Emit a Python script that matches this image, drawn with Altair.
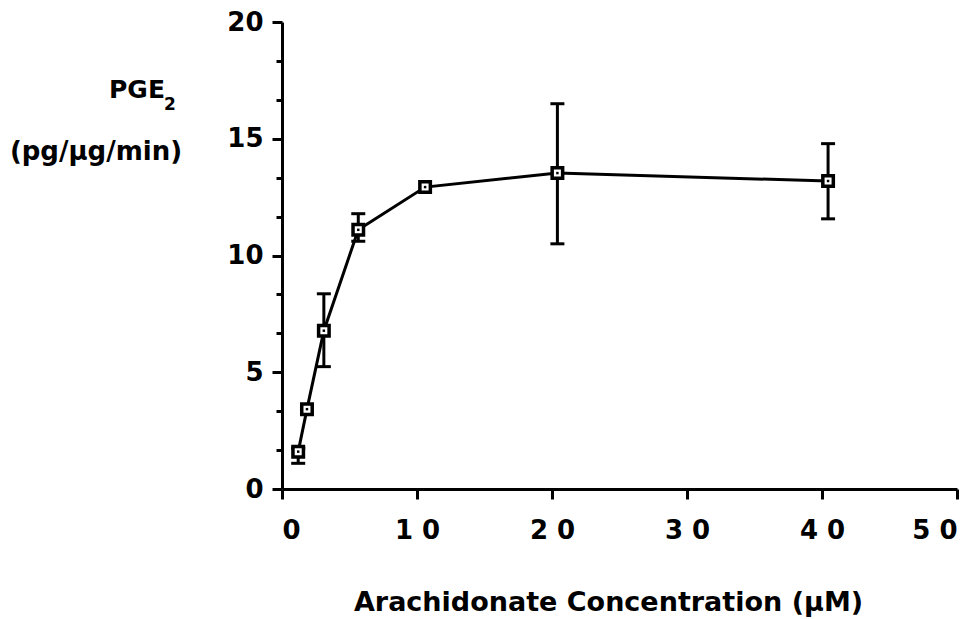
import altair as alt
import pandas as pd

# Data
conc = [1.2, 1.85, 3.1, 5.65, 10.6, 20.4, 40.45]
pge = [1.6, 3.42, 6.78, 11.1, 12.93, 13.53, 13.19]
err_conc = [1.2, 3.1, 5.65, 20.4, 40.45]
err_low = [1.1, 5.24, 10.61, 10.5, 11.57]
err_high = [1.75, 8.36, 11.79, 16.5, 14.79]

x_ticks = [0, 10, 20, 30, 40, 50]
y_ticks = [0, 5 / 3, 10 / 3, 5, 20 / 3, 25 / 3, 10, 35 / 3, 40 / 3, 15, 50 / 3, 55 / 3, 20]

FONT = "DejaVu Sans"
MAJOR = "abs(datum.value - round(datum.value / 5) * 5) < 0.01"

df = pd.DataFrame({"conc": conc, "pge": pge})
edf = pd.DataFrame({"conc": err_conc, "lo": err_low, "hi": err_high})

xs = alt.Scale(domain=[0, 50], nice=False)
ys = alt.Scale(domain=[0, 20], nice=False)

x_axis = alt.Axis(
    values=x_ticks, tickCount=20, grid=False, domainColor="black", domainWidth=3,
    tickColor="black", tickWidth=3, tickSize=10, labelOverlap=False,
    labelFont=FONT, labelFontSize=26, labelFontWeight="bold", labelColor="black",
    labelPadding=18,
    labelExpr="length(datum.label) > 1 ? substring(datum.label,0,1) + ' ' + substring(datum.label,1) : datum.label",
    title="Arachidonate Concentration (\u00b5M)", titleFont=FONT, titleFontSize=27,
    titleFontWeight="bold", titleColor="black", titleX=326, titleY=121,
    titleBaseline="alphabetic", titleAlign="center",
)

y_axis = alt.Axis(
    values=y_ticks, tickCount=40, grid=False, domainColor="black", domainWidth=3,
    tickColor="black", tickWidth=3, labelOverlap=False,
    tickSize={"condition": {"test": MAJOR, "value": 10}, "value": 6},
    labelFont=FONT, labelFontSize=26, labelFontWeight="bold", labelColor="black",
    labelPadding=9,
    labelExpr=MAJOR + " ? format(datum.value, 'd') : ''",
    title=None,
)

base = alt.Chart(df)

line = base.mark_line(color="black", strokeWidth=3).encode(
    x=alt.X("conc:Q", scale=xs, axis=x_axis),
    y=alt.Y("pge:Q", scale=ys, axis=y_axis),
)

ebase = alt.Chart(edf)
rules = ebase.mark_rule(color="black", strokeWidth=3, opacity=1).encode(
    x=alt.X("conc:Q", scale=xs), y=alt.Y("lo:Q", scale=ys), y2="hi:Q"
)
cap_lo = ebase.mark_tick(color="black", thickness=3, size=14, orient="horizontal", opacity=1).encode(
    x=alt.X("conc:Q", scale=xs), y=alt.Y("lo:Q", scale=ys)
)
cap_hi = ebase.mark_tick(color="black", thickness=3, size=14, orient="horizontal", opacity=1).encode(
    x=alt.X("conc:Q", scale=xs), y=alt.Y("hi:Q", scale=ys)
)

squares = base.mark_point(shape="square", filled=True, fill="white", stroke="black",
                          strokeWidth=3.5, size=110, opacity=1).encode(
    x=alt.X("conc:Q", scale=xs), y=alt.Y("pge:Q", scale=ys)
)
dots = base.mark_point(shape="square", filled=True, color="black", size=6, opacity=1).encode(
    x=alt.X("conc:Q", scale=xs), y=alt.Y("pge:Q", scale=ys)
)

lab_pge = alt.Chart(pd.DataFrame({"t": ["PGE"]})).mark_text(
    font=FONT, fontSize=25, fontWeight="bold", color="black", align="center", baseline="alphabetic"
).encode(text="t:N", x=alt.value(-145), y=alt.value(76))
lab_sub = alt.Chart(pd.DataFrame({"t": ["2"]})).mark_text(
    font=FONT, fontSize=17, fontWeight="bold", color="black", align="center", baseline="alphabetic"
).encode(text="t:N", x=alt.value(-112), y=alt.value(88))
lab_unit = alt.Chart(pd.DataFrame({"t": ["(pg/\u00b5g/min)"]})).mark_text(
    font=FONT, fontSize=26, fontWeight="bold", color="black", align="center", baseline="alphabetic"
).encode(text="t:N", x=alt.value(-186), y=alt.value(138))

chart = alt.layer(line, rules, cap_lo, cap_hi, squares, dots, lab_pge, lab_sub, lab_unit).properties(
    width=675, height=467,
    padding={"left": 282, "top": 22, "right": 23, "bottom": 130},
    autosize=alt.AutoSizeParams(type="none"),
    background="white",
).configure_view(stroke=None)

chart.save("out.html", embed_options={"renderer": "svg", "actions": False})
